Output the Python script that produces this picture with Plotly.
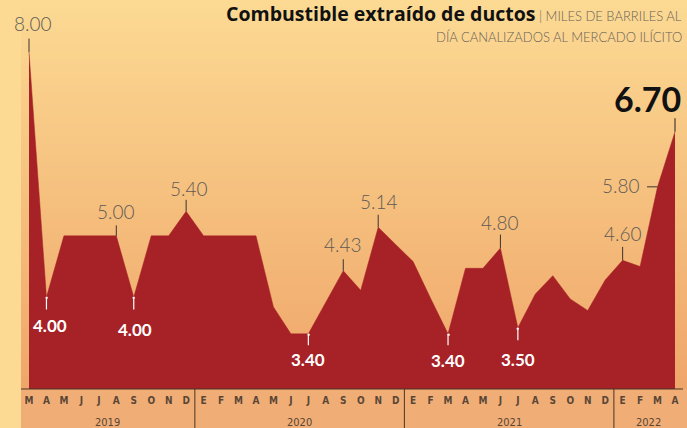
import plotly.graph_objects as go

# ---------------- data ----------------
month_labels = ["M", "A", "M", "J", "J", "A", "S", "O", "N", "D",
                "E", "F", "M", "A", "M", "J", "J", "A", "S", "O", "N", "D",
                "E", "F", "M", "A", "M", "J", "J", "A", "S", "O", "N", "D",
                "E", "F", "M", "A"]
values = [8.00, 4.00, 5.00, 5.00, 5.00, 5.00, 4.00, 5.00, 5.00, 5.40,
          5.00, 5.00, 5.00, 5.00, 3.84, 3.40, 3.40, 3.92, 4.43, 4.11, 5.14, 4.86,
          4.58, 3.98, 3.40, 4.47, 4.47, 4.80, 3.50, 4.05, 4.35, 3.97, 3.78, 4.28,
          4.60, 4.50, 5.80, 6.70]
years = ["2019", "2020", "2021", "2022"]
year_centers = [4.5, 15.5, 27.5, 35.5]
year_dividers = [9.5, 21.5, 33.5]

# labelled points (indices into values)
above_labels = [0, 5, 9, 18, 20, 27, 34]
below_labels = [1, 6, 16, 24, 28]
highlight_mid = 36
highlight_last = 37

x = list(range(len(values)))

# ---------------- style ----------------
RED = "#A62226"
TOP = (252, 218, 147)
BOT = (239, 166, 106)
PAPER = "#FCDA94"
BAND = "#F0AE76"
AXIS_TXT = "#5a4636"
GRAY = "#5e5a55"

fig = go.Figure()
fig.add_trace(go.Scatter(
    x=x, y=values, mode="lines", fill="tozeroy",
    fillcolor=RED, line=dict(color=RED, width=0.5),
    hoverinfo="skip", showlegend=False))

shapes = []
# vertical gradient background of plot area
n = 60
for k in range(n):
    t = (k + 0.5) / n
    r = round(TOP[0] + (BOT[0] - TOP[0]) * t)
    g = round(TOP[1] + (BOT[1] - TOP[1]) * t)
    b = round(TOP[2] + (BOT[2] - TOP[2]) * t)
    shapes.append(dict(type="rect", xref="paper", yref="paper",
                       x0=0, x1=1, y0=1 - (k + 1) / n - 0.002, y1=1 - k / n,
                       fillcolor=f"rgb({r},{g},{b})", line=dict(width=0),
                       layer="below"))
# axis band
shapes.append(dict(type="rect", xref="paper", yref="paper", x0=0, x1=1,
                   y0=-0.11, y1=0, fillcolor=BAND, line=dict(width=0),
                   layer="below"))
for d in year_dividers:
    shapes.append(dict(type="line", xref="x", yref="paper", x0=d, x1=d,
                       y0=-0.11, y1=0, line=dict(color="#4a3526", width=1)))
shapes.append(dict(type="line", xref="paper", yref="paper", x0=0, x1=0.994,
                   y0=0, y1=0, line=dict(color="#4a3526", width=1)))

ann = []
num_font = dict(family="Lato, 'Noto Sans', sans-serif", size=19, color=GRAY, weight=300)
above_off = {0: (4, 29, 15), 5: (0, 24, 12), 9: (3, 23, 13), 18: (0, 26, 13),
             20: (1, 26, 14), 27: (0, 26, 15), 34: (0, 27, 15)}
for i in above_labels:
    dx, dy, tl = above_off[i]
    ann.append(dict(x=i, y=values[i], xref="x", yref="y", text=f"{values[i]:.2f}",
                    showarrow=False, xshift=dx, yshift=dy, font=num_font))
    ann.append(dict(x=i, y=values[i], xref="x", yref="y", text="",
                    showarrow=True, ax=0, ay=-tl, arrowhead=0, arrowwidth=1,
                    arrowcolor="#3a3330"))

below_off = {1: (4, 28, 14), 6: (1, 32, 14), 16: (0, 26, 13), 24: (0, 27, 13), 28: (0, 32, 14)}
for i in below_labels:
    dx, dy, tl = below_off[i]
    ann.append(dict(x=i, y=values[i], xref="x", yref="y", text=f"{values[i]:.2f}",
                    showarrow=False, xshift=dx, yshift=-dy,
                    font=dict(family="Lato, 'Noto Sans', sans-serif", size=17,
                              color="white", weight=700)))
    ann.append(dict(x=i, y=values[i], xref="x", yref="y", text="",
                    showarrow=True, ax=0, ay=tl, arrowhead=0, arrowwidth=1.2,
                    arrowcolor="white"))
    ann.append(dict(x=i, y=values[i], xref="x", yref="y", text="\u25CF",
                    showarrow=False, font=dict(size=5, color="white")))

# 5.80 with horizontal tick
ann.append(dict(x=highlight_mid, y=values[highlight_mid], xref="x", yref="y",
                text=f"{values[highlight_mid]:.2f}", showarrow=False,
                xshift=-37, yshift=1, font=num_font))
ann.append(dict(x=highlight_mid, y=values[highlight_mid], xref="x", yref="y",
                text="", showarrow=True, ax=-12, ay=0, arrowhead=0,
                arrowwidth=1, arrowcolor="#3a3330"))
# 6.70 big bold
ann.append(dict(x=highlight_last, y=values[highlight_last], xref="x", yref="y",
                text=f"<b>{values[highlight_last]:.2f}</b>", showarrow=False,
                xshift=-28, yshift=33,
                font=dict(family="Lato, 'Noto Sans', sans-serif", size=34,
                          color="#111111", weight=900)))
ann.append(dict(x=highlight_last, y=values[highlight_last], xref="x", yref="y",
                text="", showarrow=True, ax=0, ay=-15, arrowhead=0,
                arrowwidth=1, arrowcolor="#222222"))

# year labels
for yr, c in zip(years, year_centers):
    ann.append(dict(x=c, y=-0.087, xref="x", yref="paper", text=yr,
                    showarrow=False, yanchor="middle",
                    font=dict(family="'DejaVu Sans Condensed', 'Liberation Sans Narrow', sans-serif",
                              size=11, color=AXIS_TXT)))

# title
ann.append(dict(x=(684 - 21) / 666, y=(389 - 13.5) / 389, xref="paper", yref="paper",
                xanchor="right", yanchor="middle", showarrow=False,
                text="<b>Combustible extraído de ductos</b>"
                     "<span style='font-size:13px;color:#6a6258;font-weight:300;font-family:Lato'> | MILES DE BARRILES AL</span>",
                font=dict(family="'Open Sans', Lato, sans-serif", size=19.5,
                          color="#111111", weight=800)))
ann.append(dict(x=(684 - 21) / 666, y=(389 - 37) / 389, xref="paper", yref="paper",
                xanchor="right", yanchor="middle", showarrow=False,
                text="DÍA CANALIZADOS AL MERCADO ILÍCITO",
                font=dict(family="Lato, 'Noto Sans', sans-serif", size=13,
                          color="#6a6258", weight=300)))

fig.update_layout(
    width=687, height=428, autosize=False,
    margin=dict(l=21, r=0, t=0, b=39),
    paper_bgcolor=PAPER, plot_bgcolor="rgba(0,0,0,0)",
    shapes=shapes, annotations=ann, showlegend=False,
    xaxis=dict(range=[-0.458, 37.687], tickmode="array", tickvals=x,
               ticktext=month_labels, showgrid=False, zeroline=False,
               showline=False, ticks="", ticklabelstandoff=4,
               tickfont=dict(family="'DejaVu Sans Condensed', 'Liberation Sans Narrow', sans-serif",
                             size=10, color=AXIS_TXT, weight=700)),
    yaxis=dict(range=[2.5, 8.85], visible=False, showgrid=False, zeroline=False),
)

fig.write_html("out.html", config={"displayModeBar": False},
               post_script="document.body.style.margin='0';document.body.style.overflow='hidden';")
